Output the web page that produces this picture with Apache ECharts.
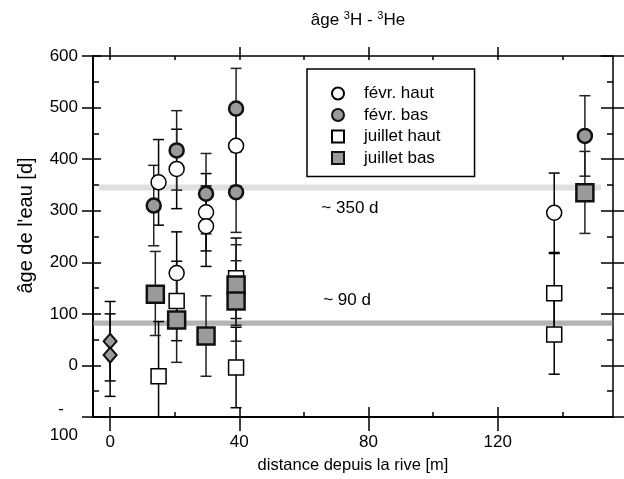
<!DOCTYPE html>
<html>
<head>
<meta charset="utf-8">
<script src="https://cdn.jsdelivr.net/npm/echarts@6/dist/echarts.min.js"></script>
<style>
  html, body { margin: 0; padding: 0; background: #fff; }
  #chart { width: 624px; height: 479px; }
</style>
</head>
<body>
<div id="chart"></div>
<script>
// axis ticks
const xTicks = [0, 40, 80, 120];
const xMinorTicks = [20, 60, 100, 140];

// rows: [distance, age, lower end of error bar, upper end of error bar]
const fevrHaut = [
  [15, 355, 272, 438], [20.6, 381, 304, 458], [20.6, 179, 99, 259],
  [29.7, 297, 222, 372], [29.7, 270, 192, 348], [39, 426, 348, 504],
  [137.5, 296, 219, 373]
];
const fevrBas = [
  [13.5, 310, 232, 388], [20.6, 417, 340, 494], [29.7, 333, 255, 411],
  [39, 498, 420, 576], [39, 336, 258, 414], [147, 445, 367, 523]
];
const juilletHaut = [
  [15, -21, -125, 85], [20.6, 125, 48, 202], [39, 169, 91, 247],
  [39, -4, -82, 74], [137.5, 140, 63, 217], [137.5, 60, -17, 137]
];
const juilletBas = [
  [14, 138, 58, 221], [20.6, 88, 6, 170], [29.7, 57, -21, 135],
  [39, 156, 78, 234], [39, 125, 47, 203], [147, 335, 256, 415]
];
const riveDiamonds = [
  [0, 47, -30, 124], [0, 20, -60, 100]
];

// bands: ~350 d and ~90 d
const band350 = [339, 351];
const band90 = [77, 87];

const FONT = 'Liberation Sans';
const chart = echarts.init(document.getElementById('chart'));

// error bar drawing (vertical line + caps)
const errorBars = (rows, color) => ({
  type: 'custom',
  z: 1,
  silent: true,
  clip: true,
  encode: { x: 0, y: [1, 2] },
  data: rows.map(r => [r[0], r[2], r[3]]),
  renderItem: (params, api) => {
    const lo = api.coord([api.value(0), api.value(1)]);
    const hi = api.coord([api.value(0), api.value(2)]);
    const w = 5.5;
    const style = { stroke: color, lineWidth: 1.5 };
    return {
      type: 'group',
      children: [
        { type: 'line', shape: { x1: lo[0], y1: lo[1], x2: hi[0], y2: hi[1] }, style },
        { type: 'line', shape: { x1: lo[0] - w, y1: lo[1], x2: lo[0] + w, y2: lo[1] }, style },
        { type: 'line', shape: { x1: hi[0] - w, y1: hi[1], x2: hi[0] + w, y2: hi[1] }, style }
      ]
    };
  }
});

const points = (name, rows, symbol, size, fill, border, bw) => ({
  name: name,
  type: 'scatter',
  z: 3,
  symbol: symbol,
  symbolSize: size,
  itemStyle: { color: fill, borderColor: border, borderWidth: bw, opacity: 1 },
  data: rows.map(r => [r[0], r[1]])
});

const option = {
  animation: false,
  textStyle: { fontFamily: FONT },
  title: {
    text: '{a|âge }{s|3}{a|H - }{s|3}{a|He}',
    left: 353,
    textAlign: 'center',
    top: 5,
    textStyle: {
      fontFamily: FONT, fontSize: 17, fontWeight: 'normal', color: '#000',
      rich: {
        a: { fontFamily: FONT, fontSize: 17, lineHeight: 20, color: '#000' },
        s: { fontFamily: FONT, fontSize: 11, lineHeight: 12, verticalAlign: 'top', color: '#000' }
      }
    }
  },
  legend: {
    data: [
      { name: 'févr. haut', icon: 'circle' },
      { name: 'févr. bas', icon: 'circle' },
      { name: 'juillet haut', icon: 'rect' },
      { name: 'juillet bas', icon: 'rect' }
    ],
    orient: 'vertical',
    left: 307,
    top: 69,
    padding: [16, 34, 10, 24],
    itemWidth: 12,
    itemHeight: 12,
    itemGap: 4.5,
    borderColor: '#000',
    borderWidth: 1.5,
    formatter: name => '{g| }' + name,
    textStyle: {
      fontFamily: FONT, fontSize: 17, color: '#000',
      rich: { g: { width: 15, fontSize: 17 } }
    }
  },
  grid: { left: 93, right: 11, top: 56, bottom: 61 },
  xAxis: [
    {
      type: 'value', position: 'bottom', min: -5.3, max: 155.7,
      name: 'distance depuis la rive [m]', nameLocation: 'middle', nameGap: 40,
      nameTextStyle: { fontFamily: FONT, fontSize: 16.5, color: '#000' },
      axisLine: { show: true, onZero: false, lineStyle: { color: '#000', width: 2 } },
      axisTick: { show: true, customValues: xTicks, length: 14, lineStyle: { color: '#000', width: 1.5 } },
      axisLabel: { customValues: xTicks, margin: 17, fontSize: 17, color: '#000', fontFamily: FONT },
      splitLine: { show: false }
    },
    {
      type: 'value', position: 'bottom', min: -5.3, max: 155.7,
      axisLine: { show: false, onZero: false },
      axisTick: { show: true, inside: true, customValues: xTicks, length: 10, lineStyle: { color: '#000', width: 1.5 } },
      axisLabel: { show: false }, splitLine: { show: false }
    },
    {
      type: 'value', position: 'bottom', min: -5.3, max: 155.7,
      axisLine: { show: false, onZero: false },
      axisTick: { show: true, inside: true, customValues: xMinorTicks, length: 5, lineStyle: { color: '#000', width: 1.5 } },
      axisLabel: { show: false }, splitLine: { show: false }
    },
    {
      type: 'value', position: 'top', min: -5.3, max: 155.7,
      axisLine: { show: true, onZero: false, lineStyle: { color: '#000', width: 1.5 } },
      axisTick: { show: true, customValues: xTicks, length: 9, lineStyle: { color: '#000', width: 1.5 } },
      axisLabel: { show: false }, splitLine: { show: false }
    },
    {
      type: 'value', position: 'top', min: -5.3, max: 155.7,
      axisLine: { show: false, onZero: false },
      axisTick: { show: true, inside: true, customValues: xTicks.concat(xMinorTicks), length: 4, lineStyle: { color: '#000', width: 1.5 } },
      axisLabel: { show: false }, splitLine: { show: false }
    }
  ],
  yAxis: [
    {
      type: 'value', position: 'left', min: -100, max: 600, interval: 100,
      name: "âge de l'eau [d]", nameLocation: 'middle', nameGap: 57,
      nameTextStyle: { fontFamily: FONT, fontSize: 20, color: '#000', padding: [0, 0, 0, 22] },
      axisLine: { show: true, onZero: false, lineStyle: { color: '#000', width: 2 } },
      axisTick: { show: true, length: 11, lineStyle: { color: '#000', width: 1.5 } },
      axisLabel: {
        margin: 15, fontSize: 17, color: '#000', fontFamily: FONT,
        formatter: v => (v === -100 ? '{d|-   }\n{e|100}' : String(v)),
        rich: {
          d: { fontFamily: FONT, fontSize: 17, lineHeight: 36, color: '#000' },
          e: { fontFamily: FONT, fontSize: 17, lineHeight: 16, color: '#000' }
        }
      },
      splitLine: { show: false }
    },
    {
      type: 'value', position: 'left', min: -100, max: 600, interval: 100,
      axisLine: { show: false, onZero: false },
      axisTick: { show: true, inside: true, length: 8, lineStyle: { color: '#000', width: 1.5 } },
      minorTick: { show: true, splitNumber: 2, length: 6, lineStyle: { color: '#000', width: 1.5 } },
      axisLabel: { show: false }, splitLine: { show: false }
    },
    {
      type: 'value', position: 'right', min: -100, max: 600, interval: 100,
      axisLine: { show: true, onZero: false, lineStyle: { color: '#000', width: 1.5 } },
      axisTick: { show: true, inside: true, length: 12, lineStyle: { color: '#000', width: 1.5 } },
      minorTick: { show: true, splitNumber: 2, length: 6, lineStyle: { color: '#000', width: 1.5 } },
      axisLabel: { show: false }, splitLine: { show: false }
    },
    {
      type: 'value', position: 'right', min: -100, max: 600, interval: 100,
      axisLine: { show: false, onZero: false },
      axisTick: { show: true, length: 11, lineStyle: { color: '#000', width: 1.5 } },
      axisLabel: { show: false }, splitLine: { show: false }
    }
  ],
  series: [
    {
      type: 'line', z: 0, data: [], silent: true,
      markArea: {
        silent: true,
        data: [
          [
            { xAxis: -3.5, yAxis: band350[0], itemStyle: { color: 'rgba(185,185,185,0.45)' },
              label: { show: true, position: 'bottom', distance: 9, formatter: '~ 350 d',
                       color: '#000', fontSize: 17, fontFamily: FONT } },
            { xAxis: 152, yAxis: band350[1] }
          ],
          [
            { xAxis: -5.3, yAxis: band90[0], itemStyle: { color: 'rgba(130,130,130,0.6)' },
              label: { show: true, position: 'top', distance: 12, formatter: '~ 90 d',
                       color: '#000', fontSize: 17, fontFamily: FONT, offset: [-6, 0] } },
            { xAxis: 155.7, yAxis: band90[1] }
          ]
        ]
      }
    },
    errorBars(fevrHaut, '#000'),
    errorBars(fevrBas, '#222'),
    errorBars(juilletHaut, '#000'),
    errorBars(juilletBas, '#222'),
    errorBars(riveDiamonds, '#000'),
    points('févr. haut', fevrHaut, 'circle', 15, '#fff', '#000', 1.5),
    points('févr. bas', fevrBas, 'circle', 14, '#9a9a9a', '#111', 2.5),
    points('juillet haut', juilletHaut, 'rect', 15, '#fff', '#000', 1.5),
    points('juillet bas', juilletBas, 'rect', 17, '#9a9a9a', '#111', 2.5),
    points('rive', riveDiamonds, 'diamond', [13, 15], '#9a9a9a', '#111', 2)
  ]
};

chart.setOption(option);
</script>
</body>
</html>
